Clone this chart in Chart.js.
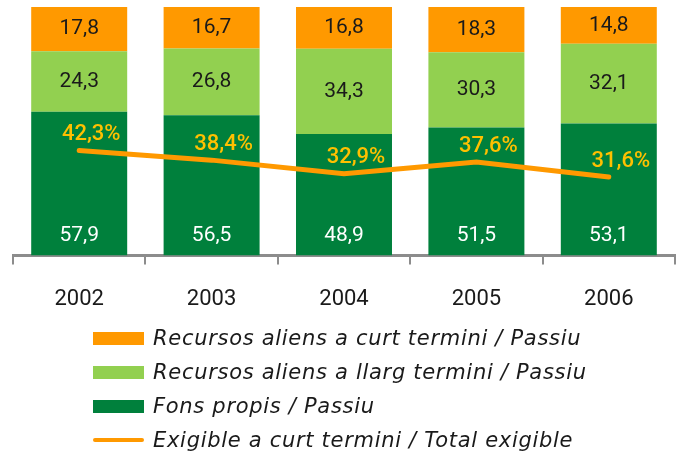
<!DOCTYPE html>
<html>
<head>
<meta charset="utf-8">
<script src="https://cdn.jsdelivr.net/npm/chart.js@4/dist/chart.umd.min.js"></script>
<style>
  body { margin: 0; background: #fff; }
  #wrap { position: relative; width: 682px; height: 456px; }
  #legend { position: absolute; left: 93px; top: 321px; font-family: "DejaVu Sans", sans-serif; font-style: italic; font-size: 21px; letter-spacing: 0.7px; color: #1a1a1a; }
  .row { height: 34px; display: flex; align-items: center; }
  .sw { width: 51px; height: 13px; margin-right: 9px; }
  .ln { width: 51px; height: 4px; border-radius: 2px; margin-right: 9px; }
</style>
</head>
<body>
<div id="wrap">
  <canvas id="chart" width="682" height="456"></canvas>
  <div id="legend"></div>
</div>
<script>
const years = ["2002", "2003", "2004", "2005", "2006"];
const fonsPropis = [57.9, 56.5, 48.9, 51.5, 53.1];
const llargTermini = [24.3, 26.8, 34.3, 30.3, 32.1];
const curtTermini = [17.8, 16.7, 16.8, 18.3, 14.8];
const exigibleCurt = [42.3, 38.4, 32.9, 37.6, 31.6];

const fmt = v => v.toFixed(1).replace(".", ",");

// labels on the bars and the line
const labelPlugin = {
  id: "valueLabels",
  afterDatasetsDraw(chart) {
    const ctx = chart.ctx;
    ctx.save();
    ctx.textAlign = "center";
    ctx.textBaseline = "middle";
    chart.data.datasets.forEach((ds, i) => {
      const meta = chart.getDatasetMeta(i);
      meta.data.forEach((el, j) => {
        const v = ds.data[j];
        if (ds.type === "line") {
          ctx.font = "500 22px Roboto";
          ctx.fillStyle = "#FFC000";
          ctx.fillText(fmt(v) + "%", el.x + 12, el.y - 16);
        } else {
          ctx.font = "21px Roboto";
          ctx.fillStyle = ds.labelColor;
          const y = ds.labelBottom ? el.base - 20 : (el.y + el.base) / 2;
          ctx.fillText(fmt(v), el.x, y);
        }
      });
    });
    ctx.restore();
  }
};

const chart = new Chart(document.getElementById("chart"), {
  type: "bar",
  data: {
    labels: years,
    datasets: [
      {
        type: "line",
        label: "Exigible a curt termini / Total exigible",
        data: exigibleCurt,
        borderColor: "#FF9900",
        backgroundColor: "#FF9900",
        borderWidth: 5,
        borderCapStyle: "round",
        pointRadius: 0,
        tension: 0,
        stack: "line",
        order: 0
      },
      {
        label: "Fons propis / Passiu",
        data: fonsPropis,
        backgroundColor: "#00803C",
        labelColor: "#ffffff",
        labelBottom: true,
        stack: "bars",
        order: 1
      },
      {
        label: "Recursos aliens a llarg termini / Passiu",
        data: llargTermini,
        backgroundColor: "#92D050",
        labelColor: "#1a1a1a",
        stack: "bars",
        order: 1
      },
      {
        label: "Recursos aliens a curt termini / Passiu",
        data: curtTermini,
        backgroundColor: "#FF9900",
        labelColor: "#1a1a1a",
        stack: "bars",
        order: 1
      }
    ]
  },
  options: {
    responsive: false,
    animation: false,
    layout: { padding: { top: 7, left: 13, right: 7, bottom: 121 } },
    datasets: {
      bar: { categoryPercentage: 1, barPercentage: 0.725, borderWidth: 0 }
    },
    plugins: {
      legend: { display: false },
      tooltip: { enabled: false }
    },
    scales: {
      x: {
        stacked: true,
        grid: { display: true, offset: true, drawOnChartArea: false, drawTicks: true, tickLength: 9, color: "#8c8c8c", lineWidth: 2 },
        border: { display: true, color: "#8c8c8c", width: 3 },
        ticks: { color: "#1a1a1a", font: { family: "Roboto", size: 22 }, padding: 22 }
      },
      y: {
        display: false,
        stacked: true,
        min: 0,
        max: 100
      }
    }
  },
  plugins: [labelPlugin]
});

// legend in the order of the original
const legend = document.getElementById("legend");
[3, 2, 1, 0].forEach(i => {
  const ds = chart.data.datasets[i];
  const row = document.createElement("div");
  row.className = "row";
  const mark = document.createElement("span");
  mark.className = ds.type === "line" ? "ln" : "sw";
  mark.style.background = ds.backgroundColor;
  const txt = document.createElement("span");
  txt.textContent = ds.label;
  row.appendChild(mark);
  row.appendChild(txt);
  legend.appendChild(row);
});
</script>
</body>
</html>
